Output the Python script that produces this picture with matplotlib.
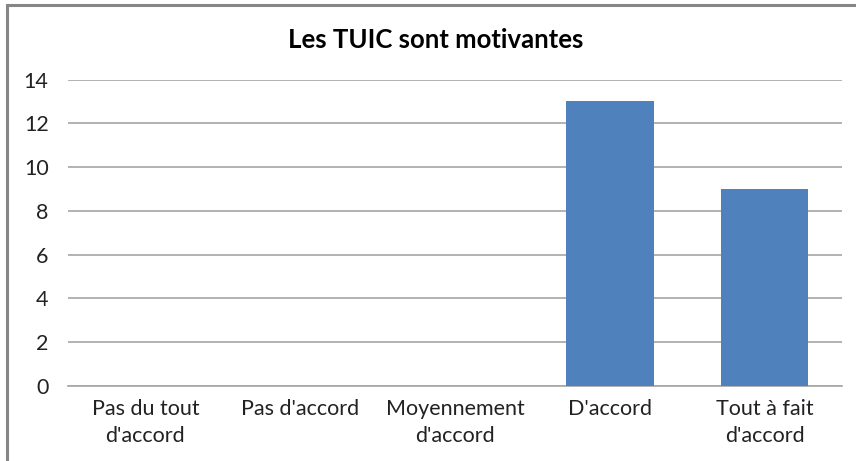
import matplotlib
matplotlib.use("Agg")
import matplotlib.pyplot as plt
from matplotlib.patches import Rectangle

categories = ["Pas du tout\nd'accord", "Pas d'accord", "Moyennement\nd'accord", "D'accord", "Tout à fait\nd'accord"]
values = [0, 0, 0, 13, 9]
yticks = [0, 2, 4, 6, 8, 10, 12, 14]
title = "Les TUIC sont motivantes"

plt.rcParams['font.family'] = ['Lato', 'DejaVu Sans']

W, H = 856, 461
fig = plt.figure(figsize=(W/100, H/100), dpi=100)
ax = fig.add_axes([68/W, 1-386/H, (842-68)/W, (386-79.5)/H])

x = list(range(len(categories)))
ax.bar(x, values, width=0.565, color="#4F81BD", zorder=3)
ax.set_xlim(-0.5, len(categories)-0.5)
ax.set_ylim(0, 14)
ax.set_yticks(yticks)
ax.set_yticklabels([str(t) for t in yticks])
ax.set_xticks(x)
ax.set_xticklabels(categories, linespacing=1.45)
ax.grid(axis="y", color="#A6A6A6", linewidth=1.2, zorder=0)
for s in ["top", "right", "left"]:
    ax.spines[s].set_visible(False)
ax.spines["bottom"].set_color("#A6A6A6")
ax.spines["bottom"].set_linewidth(1.2)
ax.tick_params(axis="both", length=0, labelsize=15.5, colors="#222222")
ax.tick_params(axis="y", pad=14)
ax.tick_params(axis="x", pad=9)

fig.text(436/W, 1-40/H, title, ha="center", va="center", fontsize=18.5, fontweight="bold", color="black")

fig.add_artist(Rectangle((7.5/W, -0.1), 1.2, 1-5.5/H+0.1, transform=fig.transFigure,
                         fill=False, edgecolor="#868686", linewidth=2.2))

fig.savefig("out.png", dpi=100)
